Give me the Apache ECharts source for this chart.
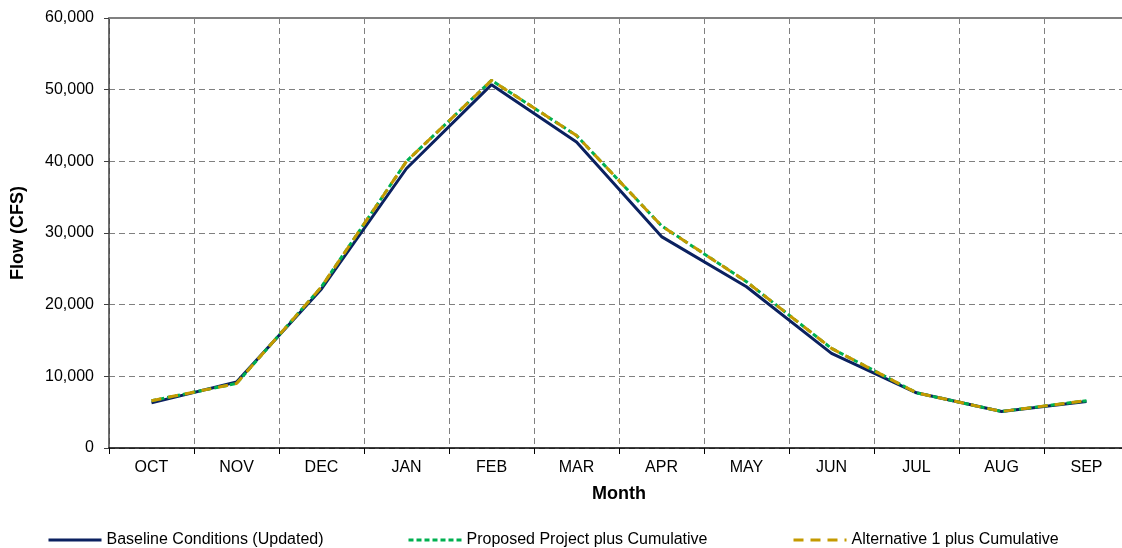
<!DOCTYPE html>
<html>
<head>
<meta charset="utf-8">
<script src="https://cdn.jsdelivr.net/npm/echarts@6/dist/echarts.min.js"></script>
<style>
  html, body { margin: 0; padding: 0; background: #fff; }
  #main { width: 1122px; height: 548px; }
</style>
</head>
<body>
<div id="main"></div>
<script>
// monthly flow values
var months = ['OCT', 'NOV', 'DEC', 'JAN', 'FEB', 'MAR', 'APR', 'MAY', 'JUN', 'JUL', 'AUG', 'SEP'];
var baseline = [6300, 9200, 22200, 39000, 50700, 42700, 29500, 22500, 13200, 7700, 5100, 6500];
var proposed = [6600, 9000, 22500, 40000, 51300, 43600, 31000, 23200, 13900, 7700, 5100, 6600];
var alternative = [6600, 9000, 22500, 40000, 51300, 43600, 31000, 23200, 13900, 7700, 5100, 6600];
var seriesNames = ['Baseline Conditions (Updated)', 'Proposed Project plus Cumulative', 'Alternative 1 plus Cumulative'];

var FONT = 'Liberation Sans, Arial, sans-serif';

// one legend per series so each sits where the picture has it
function legendAt(name, left) {
    return {
        data: [name],
        left: left,
        top: 527,
        itemWidth: 53,
        itemHeight: 10,
        itemGap: 0,
        itemStyle: { opacity: 0 },
        lineStyle: { width: 3 },
        textStyle: { fontFamily: FONT, fontSize: 16, color: '#000', padding: [0, 0, 0, 0] }
    };
}

function drawFlowChart() {
    var myChart = echarts.init(document.getElementById('main'));
    var gridDash = { color: '#808080', type: [6, 4], width: 1 };
    var option = {
        animation: false,
        textStyle: { fontFamily: FONT },
        grid: {
            left: 109,
            top: 18,
            width: 1020,
            height: 430,
            outerBoundsMode: 'none'
        },
        legend: [
            legendAt(seriesNames[0], 42),
            legendAt(seriesNames[1], 402),
            legendAt(seriesNames[2], 787)
        ],
        xAxis: [
            {
                type: 'category',
                data: months,
                boundaryGap: true,
                name: 'Month',
                nameLocation: 'middle',
                nameGap: 37,
                nameTextStyle: { fontFamily: FONT, fontWeight: 'bold', fontSize: 18, color: '#000' },
                axisLine: { lineStyle: { color: '#000', width: 1.5 } },
                axisTick: { show: true, length: 6, lineStyle: { color: '#000' } },
                axisLabel: { fontFamily: FONT, fontSize: 16, color: '#000', margin: 12 },
                splitLine: { show: true, lineStyle: gridDash }
            },
            {
                type: 'category',
                position: 'top',
                data: months,
                axisLine: { lineStyle: { color: '#808080', width: 2 } },
                axisTick: { show: false },
                axisLabel: { show: false },
                splitLine: { show: false }
            }
        ],
        yAxis: {
            type: 'value',
            min: 0,
            max: 60000,
            interval: 10000,
            name: 'Flow (CFS)',
            nameLocation: 'middle',
            nameGap: 82,
            nameTextStyle: { fontFamily: FONT, fontWeight: 'bold', fontSize: 18, color: '#000' },
            axisLine: { show: true, lineStyle: { color: '#404040', width: 1.5 } },
            axisTick: { show: true, length: 5, lineStyle: { color: '#404040' } },
            axisLabel: {
                fontFamily: FONT, fontSize: 16, color: '#000', margin: 15,
                formatter: function (v) { return v.toLocaleString('en-US'); }
            },
            splitLine: { show: true, lineStyle: gridDash }
        },
        series: [
            {
                name: seriesNames[0],
                type: 'line',
                data: baseline,
                symbol: 'none',
                lineStyle: { color: '#0b2160', width: 3 },
                itemStyle: { color: '#0b2160' }
            },
            {
                name: seriesNames[1],
                type: 'line',
                data: proposed,
                symbol: 'none',
                lineStyle: { color: '#00b050', width: 3, type: [5, 3] },
                itemStyle: { color: '#00b050' }
            },
            {
                name: seriesNames[2],
                type: 'line',
                data: alternative,
                symbol: 'none',
                lineStyle: { color: '#c49a00', width: 3, type: [10, 7] },
                itemStyle: { color: '#c49a00' }
            }
        ]
    };
    myChart.setOption(option);
}

drawFlowChart();
</script>
</body>
</html>
